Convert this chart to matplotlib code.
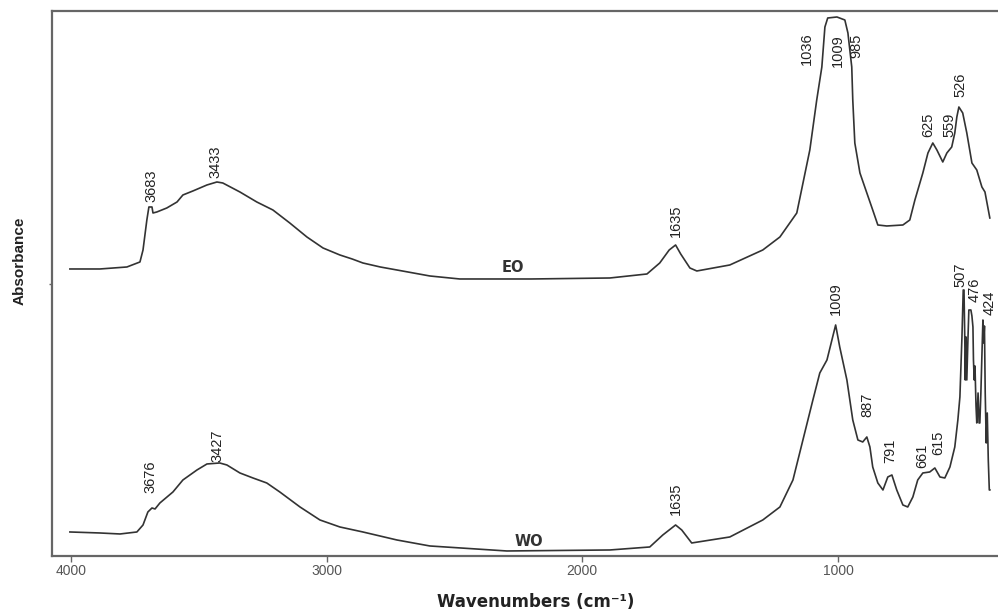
import matplotlib
matplotlib.use("Agg")
from matplotlib import pyplot as plt

# EO spectrum (wavenumber, absorbance in arbitrary units)
eo_wn = [4004, 3887, 3781, 3730, 3718, 3703, 3695, 3683, 3679, 3664, 3625, 3585,
         3562, 3523, 3468, 3429, 3406, 3339, 3273, 3210, 3144, 3077, 3014, 2948,
         2900, 2858, 2790, 2725, 2596, 2479, 2200, 1892, 1747, 1697, 1660, 1635, 1615, 1579,
         1552, 1423, 1294, 1227, 1161, 1110, 1083, 1063, 1051, 1040, 1004, 973,
         961, 946, 942, 934, 914, 887, 864, 844, 809, 746, 719, 699, 668, 648,
         629, 613, 590, 574, 555, 543, 535, 527, 512, 496, 476, 457, 437, 425, 406]
eo_abs = [2.87, 2.87, 2.89, 2.94, 3.06, 3.36, 3.49, 3.49, 3.43, 3.44, 3.48, 3.54,
          3.61, 3.65, 3.71, 3.74, 3.73, 3.64, 3.54, 3.46, 3.33, 3.19, 3.08, 3.01,
          2.97, 2.93, 2.89, 2.86, 2.80, 2.77, 2.77, 2.78, 2.82, 2.93, 3.06, 3.11, 3.02, 2.88,
          2.85, 2.91, 3.06, 3.19, 3.43, 4.06, 4.56, 4.89, 5.29, 5.38, 5.39, 5.36,
          5.23, 4.89, 4.56, 4.13, 3.83, 3.63, 3.46, 3.31, 3.30, 3.31, 3.36, 3.56, 3.83, 4.03,
          4.13, 4.06, 3.94, 4.03, 4.09, 4.23, 4.39, 4.49, 4.43, 4.23, 3.93, 3.86, 3.69, 3.64, 3.38]

# WO spectrum
wo_wn = [4004, 3887, 3808, 3742, 3718, 3699, 3683, 3671, 3652, 3601, 3562, 3507,
         3468, 3418, 3390, 3339, 3288, 3234, 3183, 3104, 3026, 2948, 2858, 2725,
         2596, 2295, 1892, 1736, 1685, 1635, 1611, 1572, 1423, 1294, 1227, 1176,
         1137, 1098, 1071, 1043, 1009, 993, 965, 942, 922, 903, 887, 875, 864,
         844, 824, 805, 789, 770, 746, 727, 707, 688, 668, 641, 621, 601, 582,
         562, 543, 531, 523, 515, 510, 507, 504, 502, 499, 496, 492, 488, 480,
         476, 472, 470, 467, 464, 460, 457, 452, 448, 445, 441, 437, 433, 430,
         427, 424, 420, 416, 412, 408, 406]
wo_abs = [0.24, 0.23, 0.22, 0.24, 0.31, 0.44, 0.48, 0.47, 0.53, 0.64, 0.76, 0.86,
          0.92, 0.93, 0.91, 0.83, 0.78, 0.73, 0.64, 0.49, 0.36, 0.29, 0.24, 0.16,
          0.10, 0.05, 0.06, 0.09, 0.21, 0.31, 0.26, 0.13, 0.19, 0.36, 0.49, 0.76,
          1.16, 1.56, 1.83, 1.96, 2.31, 2.09, 1.76, 1.36, 1.16, 1.14, 1.19, 1.09, 0.89,
          0.73, 0.66, 0.79, 0.81, 0.66, 0.51, 0.49, 0.59, 0.76, 0.83, 0.84, 0.88, 0.79, 0.78,
          0.89, 1.09, 1.36, 1.59, 2.19, 2.66, 2.66, 2.19, 1.76, 2.19, 1.76, 2.13, 2.46, 2.46,
          2.40, 2.29, 1.96, 1.76, 1.90, 1.50, 1.33, 1.63, 1.33, 1.33, 1.63, 2.00, 2.36, 2.13,
          2.30, 1.63, 1.13, 1.43, 0.96, 0.66, 0.66]

# peak labels: text, x, bottom of label
eo_peaks = ["3683", "3433", "1635", "1036", "1009", "985", "625", "559", "526"]
eo_peak_x = [3683, 3433, 1635, 1122, 1000, 926, 648, 562, 519]
eo_peak_y = [3.54, 3.78, 3.19, 4.91, 4.89, 4.98, 4.19, 4.19, 4.59]

wo_peaks = ["3676", "3427", "1635", "1009", "887", "791", "661", "615", "507", "476", "424"]
wo_peak_x = [3687, 3425, 1635, 1008, 883, 797, 672, 609, 519, 465, 406]
wo_peak_y = [0.63, 0.94, 0.41, 2.41, 1.39, 0.93, 0.88, 1.01, 2.69, 2.54, 2.41]

xticks = [4000, 3000, 2000, 1000]

fig = plt.figure(figsize=(9.98, 6.14), dpi=100)
ax = fig.add_axes([0.0521, 0.0945, 0.9479, 0.8876])

ax.plot(eo_wn, eo_abs, color="#333333", lw=1.2)
ax.plot(wo_wn, wo_abs, color="#333333", lw=1.2)

for t, x, y in zip(eo_peaks, eo_peak_x, eo_peak_y):
    ax.text(x, y, t, rotation=90, ha="center", va="bottom", fontsize=10.5,
            color="#222222", family="Liberation Sans")
for t, x, y in zip(wo_peaks, wo_peak_x, wo_peak_y):
    ax.text(x, y, t, rotation=90, ha="center", va="bottom", fontsize=10.5,
            color="#222222", family="Liberation Sans")

ax.text(2270, 2.88, "EO", ha="center", va="center", fontsize=10.5,
        fontweight="bold", color="#333333")
ax.text(2210, 0.14, "WO", ha="center", va="center", fontsize=10.5,
        fontweight="bold", color="#333333")

ax.set_xlim(4074, 374)
ax.set_ylim(0, 5.45)
ax.set_xticks(xticks)
ax.set_xticklabels([str(v) for v in xticks], color="#555555", fontsize=10,
                   family="Liberation Sans")
ax.set_yticks([2.72])
ax.set_yticklabels([])
ax.tick_params(axis="x", direction="out", length=4, width=1, color="#666666", pad=2)
ax.tick_params(axis="y", direction="out", length=2, width=1, color="#666666")

for s in ["top", "left", "bottom"]:
    ax.spines[s].set_color("#666666")
    ax.spines[s].set_linewidth(1.6)
ax.spines["right"].set_visible(False)

ax.set_xlabel("Wavenumbers (cm\u207b\u00b9)", fontsize=12, fontweight="bold",
              color="#222222")
ax.xaxis.set_label_coords(0.511, -0.068)
fig.text(0.02, 0.575, "Absorbance", rotation=90, ha="center", va="center",
         fontsize=11, fontweight="bold", color="#222222", family="Liberation Sans")

fig.savefig("out.png", dpi=100)
